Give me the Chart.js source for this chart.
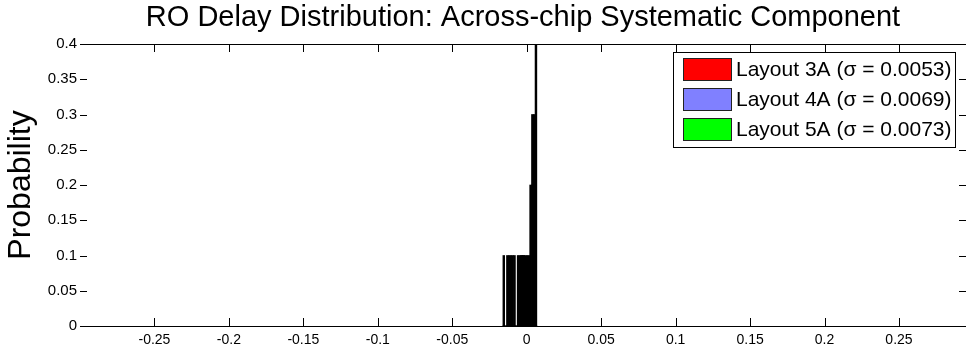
<!DOCTYPE html>
<html>
<head>
<meta charset="utf-8">
<script src="https://cdn.jsdelivr.net/npm/chart.js@4"></script>
<style>
  html, body { margin: 0; padding: 0; background: #fff; }
  #wrap { width: 967px; height: 352px; }
</style>
</head>
<body>
<div id="wrap"><canvas id="ro-delay"></canvas></div>
<script>
// histogram bins (delay deviation) and probabilities per layout
const binCenters = [-0.0154, -0.0142, -0.0130, -0.0118, -0.0106, -0.0094, -0.0082, -0.0070, -0.0058, -0.0046,
                    -0.0034, -0.0022, -0.0010, 0.0002, 0.0014, 0.0026, 0.0038, 0.0050, 0.0062];
const layout3A = [0, 0, 0, 0, 0, 0, 0, 0, 0, 0, 0, 0, 0, 0, 0, 0, 0.3, 0.3, 0.4];
const layout4A = [0, 0, 0, 0, 0, 0, 0, 0, 0, 0, 0.1, 0.1, 0.1, 0.1, 0.1, 0.2, 0.2, 0.1, 0];
const layout5A = [0.1, 0, 0.1, 0.1, 0.1, 0.1, 0.1, 0, 0.1, 0.1, 0.1, 0.1, 0, 0, 0, 0, 0, 0, 0];

const seriesNames = ['Layout 3A (σ = 0.0053)', 'Layout 4A (σ = 0.0069)', 'Layout 5A (σ = 0.0073)'];
const legendColors = ['#ff0000', '#8080ff', '#00ff00'];

const xTicks = [-0.25, -0.2, -0.15, -0.1, -0.05, 0, 0.05, 0.1, 0.15, 0.2, 0.25];
const yTicks = [0, 0.05, 0.1, 0.15, 0.2, 0.25, 0.3, 0.35, 0.4];

const FONT = '"Liberation Sans", Arial, Helvetica, sans-serif';

function toPoints(values) {
  return binCenters.map((x, i) => ({x: x, y: values[i]}));
}

// matlab style: tick marks pointing into the plot, top + bottom lines
const insideTicks = {
  id: 'insideTicks',
  afterDatasetsDraw(chart) {
    const {ctx, chartArea, scales} = chart;
    const {left, right, top, bottom} = chartArea;
    ctx.save();
    ctx.strokeStyle = '#000';
    ctx.lineWidth = 1;
    ctx.beginPath();
    ctx.moveTo(left, Math.round(bottom) + 0.5);
    ctx.lineTo(right, Math.round(bottom) + 0.5);
    ctx.moveTo(left, Math.round(top) + 0.5);
    ctx.lineTo(right, Math.round(top) + 0.5);
    scales.x.ticks.forEach(t => {
      const px = Math.round(scales.x.getPixelForValue(t.value)) + 0.5;
      ctx.moveTo(px, bottom);
      ctx.lineTo(px, bottom - 8);
      ctx.moveTo(px, top);
      ctx.lineTo(px, top + 8);
    });
    scales.y.ticks.forEach(t => {
      const py = Math.round(scales.y.getPixelForValue(t.value)) + 0.5;
      ctx.moveTo(left, py);
      ctx.lineTo(left + 7, py);
      ctx.moveTo(right, py);
      ctx.lineTo(right - 7, py);
    });
    ctx.stroke();
    ctx.restore();
  }
};

// boxed legend inside the top right corner of the plot
const boxLegend = {
  id: 'boxLegend',
  afterDraw(chart) {
    const {ctx, chartArea} = chart;
    ctx.save();
    ctx.font = '21px ' + FONT;
    const textW = Math.max(...chart.data.datasets.map(d => ctx.measureText(d.label).width));
    const w = Math.round(10 + 48 + 5 + textW + 3);
    const h = 95;
    const x0 = Math.round(chartArea.right - 11 - w);
    const y0 = Math.round(chartArea.top + 8);
    ctx.fillStyle = '#fff';
    ctx.fillRect(x0, y0, w, h);
    ctx.strokeStyle = '#000';
    ctx.lineWidth = 1;
    ctx.strokeRect(x0 + 0.5, y0 + 0.5, w, h);
    ctx.textBaseline = 'middle';
    chart.data.datasets.forEach((ds, i) => {
      const cy = y0 + 17 + i * 30;
      ctx.fillStyle = legendColors[i];
      ctx.fillRect(x0 + 10, cy - 11, 48, 22);
      ctx.strokeStyle = '#222';
      ctx.strokeRect(x0 + 10.5, cy - 10.5, 48, 22);
      ctx.fillStyle = '#000';
      ctx.fillText(ds.label, x0 + 63, cy + 1);
    });
    ctx.restore();
  }
};

const barStyle = {
  backgroundColor: '#000',
  borderWidth: 0,
  grouped: false,
  barPercentage: 1,
  categoryPercentage: 1
};

const roData = {
  datasets: [
    Object.assign({label: seriesNames[0], data: toPoints(layout3A)}, barStyle),
    Object.assign({label: seriesNames[1], data: toPoints(layout4A)}, barStyle),
    Object.assign({label: seriesNames[2], data: toPoints(layout5A)}, barStyle)
  ]
};

const roConfig = {
  type: 'bar',
  data: roData,
  options: {
    responsive: true,
    maintainAspectRatio: false,
    animation: false,
    layout: { padding: {left: 0, right: 1, top: 0, bottom: 0} },
    scales: {
      x: {
        type: 'linear',
        min: -0.3,
        max: 0.295,
        offset: false,
        grid: { display: false, drawTicks: false },
        border: { display: false },
        afterBuildTicks: s => { s.ticks = xTicks.map(v => ({value: v})); },
        afterFit: s => { s.height = 26; },
        ticks: {
          color: '#000',
          padding: 6,
          maxRotation: 0,
          font: { family: FONT, size: 14 },
          callback: v => String(v)
        }
      },
      y: {
        min: 0,
        max: 0.4,
        grid: { display: false, drawTicks: false },
        border: { display: false },
        afterBuildTicks: s => { s.ticks = yTicks.map(v => ({value: v})); },
        afterFit: s => { s.width = 80; },
        ticks: {
          color: '#000',
          padding: 3,
          font: { family: FONT, size: 15 },
          callback: v => String(+v.toFixed(2))
        },
        title: {
          display: true,
          text: 'Probability',
          color: '#000',
          padding: {top: 2, bottom: 0},
          font: { family: FONT, size: 32 }
        }
      }
    },
    plugins: {
      legend: { display: false },
      tooltip: { enabled: false },
      title: {
        display: true,
        text: 'RO Delay Distribution: Across-chip Systematic Component',
        color: '#000',
        fullSize: false,
        padding: {top: 1, bottom: 8.2},
        font: { family: FONT, size: 29, weight: 'normal' }
      }
    }
  },
  plugins: [insideTicks, boxLegend]
};

const roChart = new Chart(document.getElementById('ro-delay'), roConfig);
</script>
</body>
</html>
